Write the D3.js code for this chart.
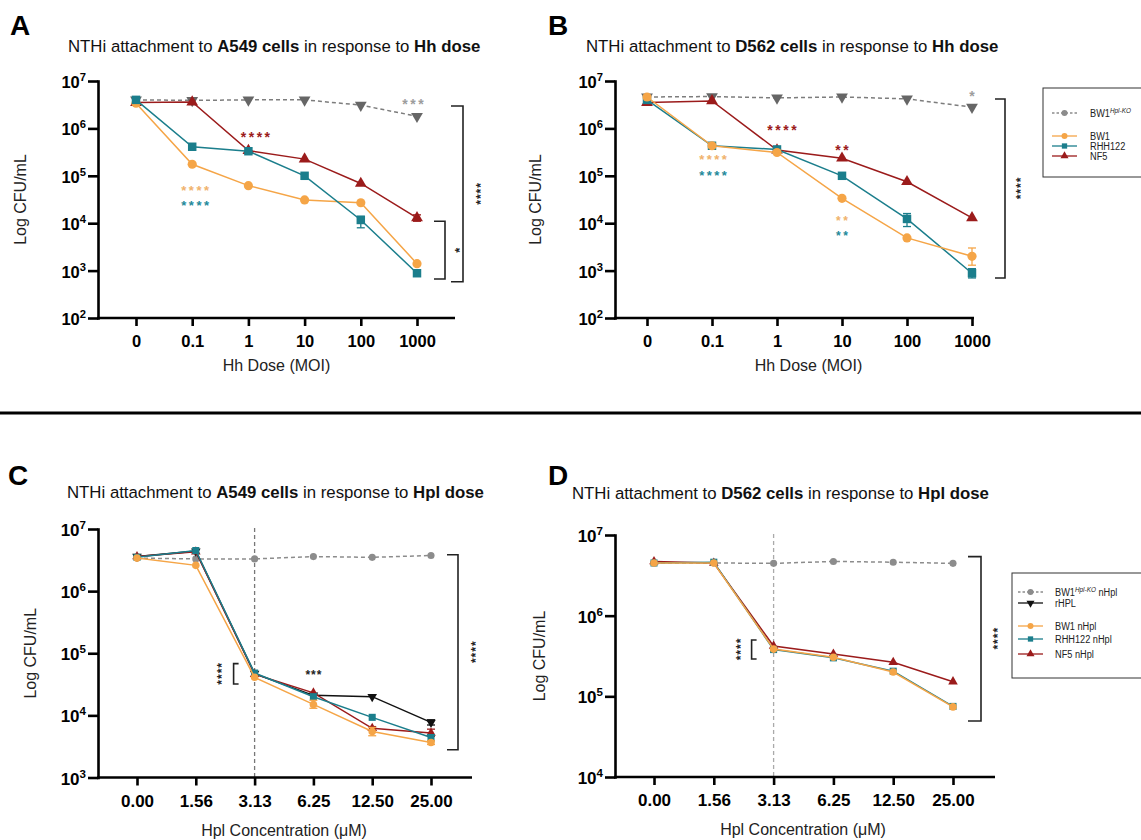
<!DOCTYPE html>
<html><head><meta charset="utf-8">
<script src="https://cdn.jsdelivr.net/npm/d3@7"></script>
<style>
body{margin:0;background:#fff}
svg{display:block}
text{font-family:"Liberation Sans",Arial,Helvetica,sans-serif}
</style>
</head><body>
<svg id="chart" width="1141" height="840"></svg>
<script>
// ---------------- DATA ----------------
const hhDoses = ["0", "0.1", "1", "10", "100", "1000"];
const hplConc = ["0.00", "1.56", "3.13", "6.25", "12.50", "25.00"];
const yTicksHh = [1e2, 1e3, 1e4, 1e5, 1e6, 1e7];
const yTicksC = [1e3, 1e4, 1e5, 1e6, 1e7];
const yTicksD = [1e4, 1e5, 1e6, 1e7];

// Panel A: A549 cells, Hh dose
const A_KO  = [4.0e6, 3.9e6, 4.0e6, 4.0e6, 3.1e6, 1.8e6];
const A_BW1 = [3.4e6, 1.75e5, 6.2e4, 3.1e4, 2.7e4, 1.4e3];
const A_RHH = [4.0e6, 4.1e5, 3.3e5, 1.0e5, 1.17e4, 8.8e2];
const A_NF5 = [3.5e6, 3.6e6, 3.4e5, 2.25e5, 6.9e4, 1.3e4];
const A_RHH_err = [null, null, null, null, [8.0e3, 1.4e4], null];
const A_NF5_err = [null, null, null, null, null, [1.1e4, 1.5e4]];

// Panel B: D562 cells, Hh dose
const B_KO  = [4.6e6, 4.7e6, 4.4e6, 4.6e6, 4.2e6, 2.8e6];
const B_BW1 = [4.6e6, 4.3e5, 3.1e5, 3.35e4, 4.9e3, 2.0e3];
const B_RHH = [4.0e6, 4.3e5, 3.6e5, 1.0e5, 1.23e4, 8.8e2];
const B_NF5 = [3.5e6, 3.8e6, 3.5e5, 2.35e5, 7.5e4, 1.3e4];
const B_BW1_err = [null, null, null, null, null, [1.3e3, 3.0e3]];
const B_RHH_err = [null, null, null, null, [8.5e3, 1.6e4], [7.0e2, 1.1e3]];

// Panel C: A549 cells, Hpl dose
const C_KO   = [3.4e6, 3.3e6, 3.3e6, 3.6e6, 3.5e6, 3.75e6];
const C_rHPL = [3.6e6, 4.4e6, 4.7e4, 2.1e4, 2.0e4, 7.7e3];
const C_BW1  = [3.4e6, 2.6e6, 4.1e4, 1.5e4, 5.5e3, 3.65e3];
const C_RHH  = [3.5e6, 4.5e6, 4.8e4, 2.0e4, 9.3e3, 4.4e3];
const C_NF5  = [3.6e6, 4.3e6, 4.6e4, 2.3e4, 6.2e3, 5.2e3];
const C_BW1_err  = [null, null, null, [1.3e4, 1.75e4], [4.7e3, 6.4e3], [3.4e3, 3.9e3]];
const C_NF5_err  = [null, null, null, null, [5.8e3, 6.6e3], [4.6e3, 6.0e3]];
const C_rHPL_err = [null, null, null, null, null, [7.0e3, 8.5e3]];
const C_RHH_err  = [null, null, null, null, null, [3.9e3, 4.9e3]];

// Panel D: D562 cells, Hpl dose
const D_KO  = [4.5e6, 4.5e6, 4.45e6, 4.7e6, 4.6e6, 4.45e6];
const D_BW1 = [4.5e6, 4.5e6, 3.85e5, 3.05e5, 2.0e5, 7.4e4];
const D_RHH = [4.5e6, 4.6e6, 3.8e5, 3.0e5, 2.05e5, 7.5e4];
const D_NF5 = [4.7e6, 4.5e6, 4.2e5, 3.35e5, 2.65e5, 1.52e5];

// ---------------- STYLE ----------------
const COL = {gray: "#7d7d7d", grayDark: "#666666", orange: "#f5a547", teal: "#1b7e8c", red: "#9b1b1b", black: "#111111"};
const svg = d3.select("#chart");

const sym = {
  square: d3.symbolSquare, circle: d3.symbolCircle, triUp: d3.symbolTriangle, triDown: d3.symbolTriangle
};

function asterisks(g, txt, cx, cy, color, fs, ls, vertical) {
  const t = g.append("text").text(txt)
    .attr("font-size", fs).attr("fill", color).attr("text-anchor", "middle")
    .attr("letter-spacing", ls).attr("font-weight", "bold");
  if (vertical) {
    t.attr("transform", `translate(${cx},${cy}) rotate(-90)`).attr("x", ls / 2).attr("y", 0.58 * fs);
  } else {
    t.attr("x", cx + ls / 2).attr("y", cy + 0.58 * fs);
  }
}

function drawPanel(p) {
  const g = svg.append("g");
  const x = d3.scalePoint().domain(p.cats).range([p.xFirst, p.xLast]);
  const y = d3.scaleLog().domain(p.yDomain).range([p.yBot, p.yTop]);

  // panel letter
  g.append("text").attr("x", p.labelX).attr("y", p.labelY).text(p.label)
    .attr("font-size", 28).attr("font-weight", "bold");
  // title
  const tt = g.append("text").attr("x", p.titleX).attr("y", p.titleY).attr("font-size", 16.8).attr("fill", "#111");
  tt.append("tspan").text("NTHi attachment to ");
  tt.append("tspan").attr("font-weight", "bold").text(p.cell);
  tt.append("tspan").text(" in response to ");
  tt.append("tspan").attr("font-weight", "bold").text(p.dose);

  // reference dashed vertical
  if (p.refCat) {
    g.append("line").attr("x1", x(p.refCat)).attr("x2", x(p.refCat))
      .attr("y1", y(p.yDomain[1]) - 1).attr("y2", p.yBot)
      .attr("stroke", p.refColor).attr("stroke-width", 1.3).attr("stroke-dasharray", "4,3");
  }

  // y axis
  const ya = g.append("g").attr("transform", `translate(${p.x0},0)`)
    .call(d3.axisLeft(y).tickValues(p.yTicks).tickSize(10).tickSizeOuter(0).tickFormat(""));
  ya.selectAll("path,line").attr("stroke", "#000").attr("stroke-width", 2.6);
  ya.select("path").attr("stroke-linecap", "square");
  p.yTicks.forEach(v => {
    const t = g.append("text").attr("x", p.x0 - 12).attr("y", y(v) + 7)
      .attr("text-anchor", "end").attr("font-weight", "bold").attr("font-size", p.tickFs);
    t.append("tspan").text("10");
    t.append("tspan").attr("dy", -7).attr("font-size", p.tickFs * 0.68).text(Math.round(Math.log10(v)));
  });

  // x axis
  g.append("line").attr("x1", p.x0 - 1).attr("x2", p.x1).attr("y1", p.yBot).attr("y2", p.yBot)
    .attr("stroke", "#000").attr("stroke-width", 2.6);
  const xa = g.append("g").attr("transform", `translate(0,${p.yBot})`)
    .call(d3.axisBottom(x).tickSize(8).tickSizeOuter(0).tickPadding(12));
  xa.select("path").remove();
  xa.selectAll("line").attr("stroke", "#000").attr("stroke-width", 2.6);
  xa.selectAll("text").attr("font-size", p.tickFs).attr("font-weight", "bold").attr("fill", "#000")
    .attr("font-family", '"Liberation Sans",Arial,sans-serif').attr("dy", 0).attr("y", 29);

  // axis titles
  g.append("text").attr("x", (p.x0 + p.x1) / 2 + p.xtDx).attr("y", p.yBot + p.xtDy)
    .attr("text-anchor", "middle").attr("font-size", 16).attr("fill", "#222").text(p.xTitle);
  g.append("text").attr("transform", `translate(${p.ytX},${(p.yTop + p.yBot) / 2}) rotate(-90)`)
    .attr("text-anchor", "middle").attr("font-size", 16).attr("fill", "#222").text("Log CFU/mL");

  // series
  const line = d3.line().x((d, i) => x(p.cats[i])).y(d => y(d));
  p.series.forEach(s => {
    g.append("path").datum(s.values).attr("d", line).attr("fill", "none")
      .attr("stroke", s.color).attr("stroke-width", s.lw || 1.5)
      .attr("stroke-dasharray", s.dash ? "4,3" : null);
    if (s.err) {
      s.err.forEach((e, i) => {
        if (!e) return;
        const cx = x(p.cats[i]);
        g.append("line").attr("x1", cx).attr("x2", cx).attr("y1", y(e[0])).attr("y2", y(e[1]))
          .attr("stroke", s.color).attr("stroke-width", 1.3);
        [e[0], e[1]].forEach(v => g.append("line").attr("x1", cx - 4).attr("x2", cx + 4)
          .attr("y1", y(v)).attr("y2", y(v)).attr("stroke", s.color).attr("stroke-width", 1.3));
      });
    }
    g.selectAll(null).data(s.values).enter().append("path")
      .attr("d", d3.symbol().type(sym[s.shape]).size(s.size))
      .attr("transform", (d, i) => `translate(${x(p.cats[i])},${y(d)})${s.shape === "triDown" ? " rotate(180)" : ""}`)
      .attr("fill", s.mcolor || s.color);
  });

  // brackets
  p.brackets.forEach(b => {
    const bx = x(p.cats[b.cat]) + b.dx;
    const yt = y(b.top), yb = y(b.bot);
    g.append("path").attr("d", `M${bx + b.tick},${yt}H${bx}V${yb}H${bx + b.tick}`)
      .attr("fill", "none").attr("stroke", "#222").attr("stroke-width", 1.6);
    asterisks(g, b.stars, bx + b.sdx, (yt + yb) / 2 + (b.sdy || 0), "#222", b.fs || 12, 1, true);
  });
  // star labels
  p.stars.forEach(s => {
    asterisks(g, s.text, x(p.cats[s.cat]) + (s.dx || 0), y(s.v), s.color, s.fs || 14, s.ls == null ? 2.5 : s.ls, false);
  });
}

const starOrange = "#f0b26c", starTeal = "#23899a", starGray = "#9d9d9d";

const panels = [
  {label: "A", labelX: 10, labelY: 35, titleX: 68, titleY: 52, cell: "A549 cells", dose: "Hh dose",
   x0: 98, x1: 455, xFirst: 136, xLast: 417, yTop: 81, yBot: 318, yDomain: [1e2, 1e7], yTicks: yTicksHh,
   cats: hhDoses, xTitle: "Hh Dose (MOI)", xtDx: 0, xtDy: 53, ytX: 26, tickFs: 16.5,
   series: [
     {values: A_KO, color: COL.gray, mcolor: COL.grayDark, dash: true, shape: "triDown", size: 60},
     {values: A_NF5, color: COL.red, shape: "triUp", size: 60, err: A_NF5_err},
     {values: A_BW1, color: COL.orange, shape: "circle", size: 66},
     {values: A_RHH, color: COL.teal, shape: "square", size: 72, err: A_RHH_err}
   ],
   brackets: [
     {cat: 5, dx: 46, top: 2.97e6, bot: 5.8e2, tick: -12, stars: "****", sdx: 15},
     {cat: 5, dx: 28, top: 1.1e4, bot: 6.65e2, tick: -11, stars: "*", sdx: 11, fs: 13}
   ],
   stars: [
     {text: "***", cat: 5, dx: -4, v: 3.8e6, color: starGray},
     {text: "****", cat: 2, dx: 7, v: 7.6e5, color: COL.red},
     {text: "****", cat: 1, dx: 3, v: 5.8e4, color: starOrange, fs: 13},
     {text: "****", cat: 1, dx: 3, v: 2.7e4, color: starTeal, fs: 13}
   ]},
  {label: "B", labelX: 548, labelY: 35, titleX: 586, titleY: 52, cell: "D562 cells", dose: "Hh dose",
   x0: 615, x1: 974, xFirst: 647, xLast: 972, yTop: 81, yBot: 318, yDomain: [1e2, 1e7], yTicks: yTicksHh,
   cats: hhDoses, xTitle: "Hh Dose (MOI)", xtDx: 14, xtDy: 53, ytX: 541, tickFs: 16.5,
   series: [
     {values: B_KO, color: COL.gray, mcolor: COL.grayDark, dash: true, shape: "triDown", size: 60},
     {values: B_NF5, color: COL.red, shape: "triUp", size: 60},
     {values: B_RHH, color: COL.teal, shape: "square", size: 72, err: B_RHH_err},
     {values: B_BW1, color: COL.orange, shape: "circle", size: 66, err: B_BW1_err}
   ],
   brackets: [
     {cat: 5, dx: 33, top: 4.17e6, bot: 7.0e2, tick: -10, stars: "****", sdx: 13}
   ],
   stars: [
     {text: "*", cat: 5, dx: 0, v: 5.6e6, color: starGray, ls: 0},
     {text: "****", cat: 2, dx: 5, v: 1.07e6, color: COL.red},
     {text: "**", cat: 3, dx: 0, v: 4.1e5, color: COL.red},
     {text: "****", cat: 1, dx: 1, v: 2.5e5, color: starOrange, fs: 13},
     {text: "****", cat: 1, dx: 1, v: 1.15e5, color: starTeal, fs: 13},
     {text: "**", cat: 3, dx: 0, v: 1.3e4, color: starOrange, fs: 12},
     {text: "**", cat: 3, dx: 0, v: 6.2e3, color: starTeal, fs: 12}
   ]},
  {label: "C", labelX: 8, labelY: 485, titleX: 67, titleY: 498, cell: "A549 cells", dose: "Hpl dose",
   x0: 98, x1: 472, xFirst: 137, xLast: 431, yTop: 529, yBot: 777.5, yDomain: [1e3, 1e7], yTicks: yTicksC,
   cats: hplConc, xTitle: "Hpl Concentration (\u03bcM)", xtDx: -1, xtDy: 58, ytX: 36, tickFs: 17,
   refCat: "3.13", refColor: "#777",
   series: [
     {values: C_KO, color: "#8c8c8c", dash: true, shape: "circle", size: 40},
     {values: C_rHPL, color: COL.black, shape: "triDown", size: 40, err: C_rHPL_err},
     {values: C_NF5, color: COL.red, shape: "triUp", size: 40, err: C_NF5_err},
     {values: C_RHH, color: COL.teal, shape: "square", size: 50, err: C_RHH_err},
     {values: C_BW1, color: COL.orange, shape: "circle", size: 45, err: C_BW1_err}
   ],
   brackets: [
     {cat: 5, dx: 27, top: 3.86e6, bot: 2.8e3, tick: -11, stars: "****", sdx: 15},
     {cat: 2, dx: -21, top: 6.8e4, bot: 3.2e4, tick: 5, stars: "****", sdx: -15}
   ],
   stars: [
     {text: "***", cat: 3, dx: 0, v: 4.9e4, color: "#222", fs: 12, ls: 1}
   ]},
  {label: "D", labelX: 548, labelY: 485, titleX: 572, titleY: 499, cell: "D562 cells", dose: "Hpl dose",
   x0: 615, x1: 995, xFirst: 654, xLast: 953, yTop: 535, yBot: 777, yDomain: [1e4, 1e7], yTicks: yTicksD,
   cats: hplConc, xTitle: "Hpl Concentration (\u03bcM)", xtDx: -2, xtDy: 58, ytX: 545, tickFs: 17,
   refCat: "3.13", refColor: "#aaa",
   series: [
     {values: D_KO, color: "#8c8c8c", dash: true, shape: "circle", size: 40},
     {values: D_NF5, color: COL.red, shape: "triUp", size: 40},
     {values: D_RHH, color: COL.teal, shape: "square", size: 50},
     {values: D_BW1, color: COL.orange, shape: "circle", size: 45}
   ],
   brackets: [
     {cat: 5, dx: 28, top: 5.4e6, bot: 4.95e4, tick: -13, stars: "****", sdx: 14},
     {cat: 2, dx: -22, top: 5.0e5, bot: 2.9e5, tick: 5, stars: "****", sdx: -14}
   ],
   stars: []}
];

panels.forEach(drawPanel);

// separator
svg.append("line").attr("x1", 0).attr("x2", 1141).attr("y1", 413).attr("y2", 413)
  .attr("stroke", "#000").attr("stroke-width", 2.8);

// ---------------- LEGENDS ----------------
const legendAB = [
  {name: "BW1", sup: "Hpl-KO", tail: "", color: "#8c8c8c", shape: "circle", dash: true},
  {name: "BW1", sup: "", tail: "", color: COL.orange, shape: "circle"},
  {name: "RHH122", sup: "", tail: "", color: COL.teal, shape: "square"},
  {name: "NF5", sup: "", tail: "", color: COL.red, shape: "triUp"}
];
const legendCD = [
  {name: "BW1", sup: "Hpl-KO", tail: " nHpl", color: "#8c8c8c", shape: "circle", dash: true},
  {name: "rHPL", sup: "", tail: "", color: COL.black, shape: "triDown"},
  {name: "BW1 nHpl", sup: "", tail: "", color: COL.orange, shape: "circle"},
  {name: "RHH122 nHpl", sup: "", tail: "", color: COL.teal, shape: "square"},
  {name: "NF5 nHpl", sup: "", tail: "", color: COL.red, shape: "triUp"}
];

function drawLegend(items, box, rows, lx0, lx1, tx) {
  const g = svg.append("g");
  g.append("rect").attr("x", box[0]).attr("y", box[1]).attr("width", box[2]).attr("height", box[3])
    .attr("fill", "#fff").attr("stroke", "#333").attr("stroke-width", 1);
  items.forEach((it, i) => {
    const yy = rows[i];
    g.append("line").attr("x1", lx0).attr("x2", lx1).attr("y1", yy).attr("y2", yy)
      .attr("stroke", it.color).attr("stroke-width", 1.3).attr("stroke-dasharray", it.dash ? "2.5,2" : null);
    g.append("path").attr("d", d3.symbol().type(sym[it.shape]).size(28))
      .attr("transform", `translate(${(lx0 + lx1) / 2},${yy})${it.shape === "triDown" ? " rotate(180)" : ""}`)
      .attr("fill", it.color);
    const t = g.append("text").attr("transform", `translate(${tx},${yy + 4}) scale(0.8,1)`)
      .attr("font-size", 11.5).attr("fill", "#222");
    t.append("tspan").text(it.name);
    if (it.sup) t.append("tspan").attr("dy", -4.5).attr("font-size", 8).attr("font-style", "italic").text(it.sup);
    if (it.tail) t.append("tspan").attr("dy", 4.5).text(it.tail);
  });
}
drawLegend(legendAB, [1043, 88, 120, 89], [113, 136, 146, 156], 1052, 1077, 1090);
drawLegend(legendCD, [1012, 573, 140, 105], [592, 603, 626, 639, 654], 1018, 1043, 1055);
</script>
</body></html>
